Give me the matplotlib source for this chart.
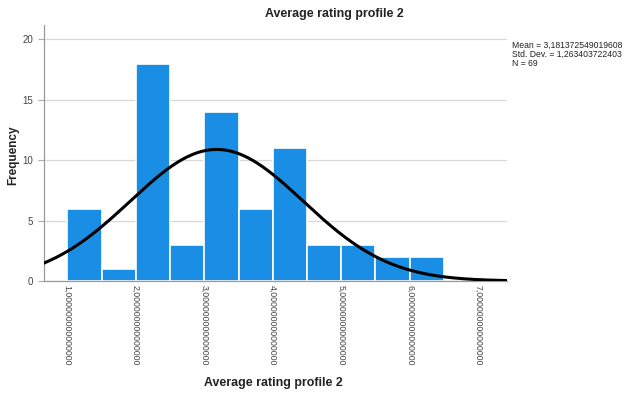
import numpy as np
import matplotlib
matplotlib.use("Agg")
import matplotlib.pyplot as plt

plt.rcParams['font.family'] = ['Liberation Sans', 'DejaVu Sans']

# Histogram bins (lower edges) and counts
bin_edges = [1.0, 1.5, 2.0, 2.5, 3.0, 3.5, 4.0, 4.5, 5.0, 5.5, 6.0, 6.5]
counts = [6, 1, 18, 3, 14, 6, 11, 3, 3, 2, 2]

mean = 3.181372549019608
std_dev = 1.263403722403
n_obs = 69

x_ticks = [1, 2, 3, 4, 5, 6, 7]
x_tick_labels = ["1,000000000000000", "2,000000000000000", "3,000000000000000",
                 "4,000000000000000", "5,000000000000000", "6,000000000000000",
                 "7,000000000000000"]
y_ticks = [0, 5, 10, 15, 20]

title = "Average rating profile 2"
x_label = "Average rating profile 2"
y_label = "Frequency"

W, H = 624, 397
fig = plt.figure(figsize=(W / 100, H / 100), dpi=100)
ax = fig.add_axes([44 / W, (H - 281) / H, (507 - 44) / W, (281 - 25) / H])

bar_color = "#1a8ee4"
widths = np.diff(bin_edges)
ax.bar(bin_edges[:-1], counts, width=widths, align="edge",
       color=bar_color, edgecolor="white", linewidth=1.2, zorder=2)

# Normal curve scaled to the histogram
xlo, xhi = 0.66, 7.42
xs = np.linspace(xlo, xhi, 400)
bw = widths[0]
ys = n_obs * bw / (std_dev * np.sqrt(2 * np.pi)) * np.exp(-0.5 * ((xs - mean) / std_dev) ** 2)
ax.plot(xs, ys, color="black", linewidth=2.2, zorder=3)

ax.set_xlim(xlo, xhi)
ax.set_ylim(0, 21.2)
ax.set_yticks(y_ticks)
ax.set_yticklabels([str(v) for v in y_ticks], fontsize=7, color="#444444")
ax.set_xticks(x_ticks)
ax.set_xticklabels(x_tick_labels, rotation=270, fontsize=6.3, color="#444444")
ax.tick_params(axis="x", length=0, pad=3)
ax.tick_params(axis="y", length=4, color="#aaaaaa", width=0.8, pad=4)

ax.grid(axis="y", color="#d8d8d8", linewidth=0.9, zorder=0)
ax.set_axisbelow(True)
for s in ("top", "right"):
    ax.spines[s].set_visible(False)
for s in ("left", "bottom"):
    ax.spines[s].set_color("#9a9a9a")
    ax.spines[s].set_linewidth(0.9)

fig.text(334 / W, 1 - 14 / H, title, ha="center", va="center",
         fontsize=8.9, fontweight="bold", color="#222222")
fig.text(273 / W, 1 - 383 / H, x_label, ha="center", va="center",
         fontsize=8.9, fontweight="bold", color="#222222")
fig.text(13 / W, 1 - 155 / H, y_label, ha="center", va="center", rotation=90,
         fontsize=8.5, fontweight="bold", color="#222222")

mean_txt = f"{mean:.15f}".replace(".", ",")
sd_txt = f"{std_dev:.12f}".replace(".", ",")
stats = f"Mean = {mean_txt}\nStd. Dev. = {sd_txt}\nN = {n_obs}"
fig.text(512 / W, 1 - 41 / H, stats, ha="left", va="top", fontsize=6.2,
         color="#222222", linespacing=1.0)

fig.savefig("out.png", dpi=100)
